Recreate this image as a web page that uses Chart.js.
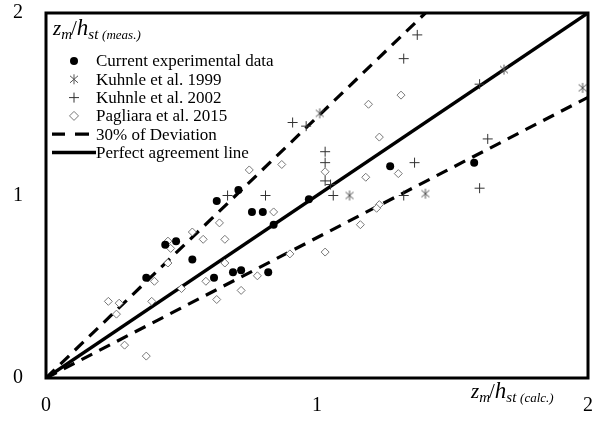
<!DOCTYPE html>
<html>
<head>
<meta charset="utf-8">
<script src="https://cdn.jsdelivr.net/npm/chart.js@4/dist/chart.umd.min.js"></script>
<style>
html,body{margin:0;padding:0;background:#fff;}
#c{display:block;}
</style>
</head>
<body>
<canvas id="c" width="598" height="423"></canvas>
<script>
// ---- data ----
const axisTicks = [0, 1, 2];

const currentX = [0.37,0.44,0.48,0.54,0.62,0.63,0.69,0.71,0.72,0.76,0.80,0.82,0.84,0.97,1.27,1.58];
const currentY = [0.55,0.73,0.75,0.65,0.55,0.97,0.58,1.03,0.59,0.91,0.91,0.58,0.84,0.98,1.16,1.18];

const kuhnle1999X = [1.01,1.12,1.40,1.69,1.98];
const kuhnle1999Y = [1.45,1.00,1.01,1.69,1.59];

const kuhnle2002X = [0.67,0.81,0.91,0.96,1.03,1.03,1.03,1.05,1.06,1.32,1.36,1.37,1.32,1.60,1.63,1.60];
const kuhnle2002Y = [1.00,1.00,1.40,1.38,1.24,1.18,1.08,1.06,1.00,1.00,1.18,1.88,1.75,1.61,1.31,1.04];

const pagliaraX = [0.23,0.27,0.26,0.29,0.37,0.39,0.40,0.45,0.45,0.46,0.50,0.54,0.58,0.59,0.63,0.64,0.66,0.66,0.72,0.78,0.75,0.84,0.87,0.90,1.03,1.03,1.18,1.30,1.23,1.19,1.31,1.23,1.22,1.16];
const pagliaraY = [0.42,0.41,0.35,0.18,0.12,0.42,0.53,0.63,0.75,0.71,0.49,0.80,0.76,0.53,0.43,0.85,0.76,0.63,0.48,0.56,1.14,0.91,1.17,0.68,0.69,1.13,1.10,1.12,1.32,1.50,1.55,0.95,0.93,0.84];

const perfectX = [0, 2];
const perfectY = [0, 2];
const upperDevX = [0, 1.4];     // y = x / 0.7
const upperDevY = [0, 2];
const lowerDevX = [0, 2];       // y = x / 1.3
const lowerDevY = [0, 1.538];

const legendLabels = ["Current experimental data","Kuhnle et al. 1999","Kuhnle et al. 2002","Pagliara et al. 2015","30% of Deviation","Perfect agreement line"];

const pts = (xs, ys) => xs.map((x, i) => ({x: x, y: ys[i]}));

const SERIF = '"Liberation Serif", "Times New Roman", serif';

// asterisk marker (X with a vertical bar)
function drawAsterisk(ctx, cx, cy, r) {
  ctx.beginPath();
  ctx.moveTo(cx - r * 0.8, cy - r * 0.7); ctx.lineTo(cx + r * 0.8, cy + r * 0.7);
  ctx.moveTo(cx + r * 0.8, cy - r * 0.7); ctx.lineTo(cx - r * 0.8, cy + r * 0.7);
  ctx.moveTo(cx, cy - r); ctx.lineTo(cx, cy + r);
  ctx.stroke();
}
const asteriskImg = (() => {
  const c = document.createElement('canvas');
  c.width = 12; c.height = 12;
  const g = c.getContext('2d');
  g.strokeStyle = '#555'; g.lineWidth = 1;
  drawAsterisk(g, 6, 6, 5);
  return c;
})();

function drawRatio(ctx, x, y, subText) {
  ctx.save();
  ctx.fillStyle = '#000';
  ctx.textBaseline = 'alphabetic';
  ctx.textAlign = 'left';
  const big = 'italic 21px ' + SERIF;
  const small = 'italic 15px ' + SERIF;
  const tiny = 'italic 13px ' + SERIF;
  ctx.font = big; ctx.fillText('z', x, y); x += ctx.measureText('z').width;
  ctx.font = small; ctx.fillText('m', x, y + 4); x += ctx.measureText('m').width;
  ctx.font = '21px ' + SERIF; ctx.fillText('/', x - 1, y); x += ctx.measureText('/').width - 1;
  ctx.font = 'italic 23px ' + SERIF; ctx.fillText('h', x, y); x += ctx.measureText('h').width;
  ctx.font = small; ctx.fillText('st', x, y + 4); x += ctx.measureText('st ').width;
  ctx.font = tiny; ctx.fillText(subText, x, y + 4);
  ctx.restore();
}

const decorPlugin = {
  id: 'decor',
  afterDatasetsDraw(chart) {
    const ctx = chart.ctx;
    const a = chart.chartArea;
    // frame
    ctx.save();
    ctx.strokeStyle = '#000';
    ctx.lineWidth = 3;
    ctx.strokeRect(a.left, a.top, a.right - a.left, a.bottom - a.top);
    ctx.restore();

    // axis titles
    drawRatio(ctx, a.left + 7, a.top + 22, '(meas.)');
    drawRatio(ctx, 471, 398, '(calc.)');

    // legend
    const mx = 74, tx = 96, y0 = a.top + 48, dy = 18.3;
    ctx.save();
    // circle
    ctx.fillStyle = '#000';
    ctx.beginPath(); ctx.arc(mx, y0, 4, 0, Math.PI * 2); ctx.fill();
    // asterisk
    let y = y0 + dy;
    ctx.strokeStyle = '#555'; ctx.lineWidth = 1;
    drawAsterisk(ctx, mx, y, 5);
    // plus
    y = y0 + 2 * dy;
    ctx.strokeStyle = '#333';
    ctx.beginPath();
    ctx.moveTo(mx - 5, y); ctx.lineTo(mx + 5, y);
    ctx.moveTo(mx, y - 5); ctx.lineTo(mx, y + 5);
    ctx.stroke();
    // diamond
    y = y0 + 3 * dy;
    ctx.strokeStyle = '#777'; ctx.fillStyle = '#fff';
    ctx.beginPath();
    ctx.moveTo(mx, y - 4.5); ctx.lineTo(mx + 4.5, y); ctx.lineTo(mx, y + 4.5); ctx.lineTo(mx - 4.5, y); ctx.closePath();
    ctx.fill(); ctx.stroke();
    // dashed
    y = y0 + 4 * dy;
    ctx.strokeStyle = '#000'; ctx.lineWidth = 3.2;
    ctx.beginPath();
    ctx.moveTo(52, y); ctx.lineTo(65, y);
    ctx.moveTo(75, y); ctx.lineTo(89, y);
    ctx.stroke();
    // solid
    y = y0 + 5 * dy;
    ctx.lineWidth = 3.5;
    ctx.beginPath(); ctx.moveTo(52, y); ctx.lineTo(96, y); ctx.stroke();
    // labels
    ctx.fillStyle = '#000';
    ctx.font = '17px ' + SERIF;
    ctx.textBaseline = 'middle';
    ctx.textAlign = 'left';
    legendLabels.forEach((t, i) => ctx.fillText(t, tx, y0 + i * dy + 1));
    ctx.restore();
  }
};

function zeroPad(s) { s.paddingTop = 0; s.paddingBottom = 0; s.paddingLeft = 0; s.paddingRight = 0; }

new Chart(document.getElementById('c'), {
  type: 'scatter',
  data: {
    datasets: [
      { label: legendLabels[0], data: pts(currentX, currentY), pointStyle: 'circle', pointRadius: 4,
        backgroundColor: '#000', borderColor: '#000', borderWidth: 0, order: 1 },
      { label: legendLabels[1], data: pts(kuhnle1999X, kuhnle1999Y), pointStyle: asteriskImg, pointRadius: 6,
        backgroundColor: '#555', borderColor: '#555', borderWidth: 1, order: 1 },
      { label: legendLabels[2], data: pts(kuhnle2002X, kuhnle2002Y), pointStyle: 'cross', pointRadius: 5,
        backgroundColor: '#333', borderColor: '#333', borderWidth: 1, order: 1 },
      { label: legendLabels[3], data: pts(pagliaraX, pagliaraY), pointStyle: 'rectRot', pointRadius: 4,
        backgroundColor: '#fff', borderColor: '#777', borderWidth: 1, order: 1 },
      { label: legendLabels[4], data: pts(upperDevX, upperDevY), showLine: true, pointRadius: 0,
        borderColor: '#000', borderWidth: 3.2, borderDash: [12, 8], fill: false, order: 10 },
      { label: legendLabels[4], data: pts(lowerDevX, lowerDevY), showLine: true, pointRadius: 0,
        borderColor: '#000', borderWidth: 3.2, borderDash: [12, 8], fill: false, order: 10 },
      { label: legendLabels[5], data: pts(perfectX, perfectY), showLine: true, pointRadius: 0,
        borderColor: '#000', borderWidth: 3.5, fill: false, order: 10 }
    ]
  },
  options: {
    responsive: false,
    animation: false,
    events: [],
    layout: { padding: { top: 13, right: 10, left: 0, bottom: 0 } },
    plugins: { legend: { display: false }, tooltip: { enabled: false } },
    scales: {
      x: {
        type: 'linear', min: 0, max: 2,
        afterBuildTicks: (s) => { s.ticks = axisTicks.map(v => ({value: v})); },
        afterFit: (s) => { s.height = 45; zeroPad(s); },
        grid: { display: false, drawTicks: false, tickLength: 0 },
        border: { display: false },
        ticks: { color: '#000', font: { family: SERIF, size: 20 }, padding: 16, maxRotation: 0,
                 callback: (v) => String(v) }
      },
      y: {
        type: 'linear', min: 0, max: 2,
        afterBuildTicks: (s) => { s.ticks = axisTicks.map(v => ({value: v})); },
        afterFit: (s) => { s.width = 46; zeroPad(s); },
        grid: { display: false, drawTicks: false, tickLength: 0 },
        border: { display: false },
        ticks: { color: '#000', font: { family: SERIF, size: 20 }, padding: 23,
                 callback: (v) => String(v) }
      }
    }
  },
  plugins: [decorPlugin]
});
</script>
</body>
</html>
